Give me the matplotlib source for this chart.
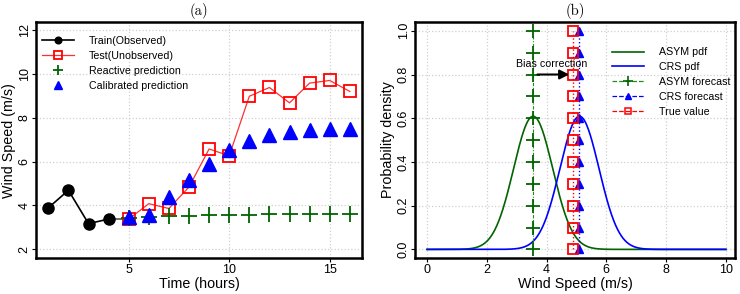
import numpy as np
import matplotlib
matplotlib.use('Agg')
import matplotlib.pyplot as plt

# panel (a) data
train_t = [1, 2, 3, 4]
train_ws = [3.89, 4.69, 3.17, 3.38]
test_t = [5, 6, 7, 8, 9, 10, 11, 12, 13, 14, 15, 16]
test_ws = [3.38, 4.08, 3.86, 4.84, 6.57, 6.26, 8.97, 9.37, 8.67, 9.57, 9.69, 9.19]
reactive_ws = [3.45, 3.48, 3.52, 3.54, 3.56, 3.57, 3.58, 3.59, 3.6, 3.61, 3.62, 3.62]
calib_ws = [3.48, 3.56, 4.38, 5.15, 5.9, 6.52, 6.94, 7.22, 7.35, 7.43, 7.47, 7.5]

# panel (b) data
asym_mean, asym_sd = 3.55, 0.655
crs_mean, crs_sd = 5.1, 0.655
true_value = 4.9
forecast_y = [0.0, 0.1, 0.2, 0.3, 0.4, 0.5, 0.6, 0.7, 0.8, 0.9, 1.0]

plt.rcParams['font.family'] = ['Liberation Sans', 'DejaVu Sans']

fig = plt.figure(figsize=(7.4, 2.94), dpi=100)
ax1 = fig.add_axes([0.049, 0.122, 0.440, 0.803])
ax2 = fig.add_axes([0.561, 0.122, 0.432, 0.803])

def style_axes(ax):
    for s in ax.spines.values():
        s.set_linewidth(1.8)
    ax.tick_params(direction='out', length=3, width=0.8, labelsize=9, pad=1)
    ax.grid(True, color='#d0d0d0', linestyle=':', linewidth=0.9)
    ax.set_axisbelow(True)
    for lab in ax.get_yticklabels():
        lab.set_rotation(90)
        lab.set_va('center')

leg_kw = dict(frameon=False, fontsize=7.7, handlelength=3.0, handletextpad=1.4,
              labelspacing=0.45, borderpad=0, borderaxespad=0, loc='upper left')

# ---- (a)
ax1.plot([train_t[-1], test_t[0]], [train_ws[-1], test_ws[0]], color='#555555', lw=1.2)
ax1.plot(train_t, train_ws, color='black', lw=1.2, marker='o', ms=8,
         label='Train(Observed)')
ax1.plot(test_t, test_ws, color='#ff3030', lw=0.9, marker='s', ms=9, mfc='none',
         mec='red', mew=1.3, label='Test(Unobserved)')
ax1.plot(test_t, reactive_ws, ls='none', marker='+', ms=12, mew=1.3,
         color='#006400', label='Reactive prediction')
ax1.plot(test_t, calib_ws, ls='none', marker='^', ms=10, color='blue',
         label='Calibrated prediction')
ax1.set_xlim(0.4, 16.6)
ax1.set_ylim(1.6, 12.35)
ax1.set_xticks([5, 10, 15])
ax1.set_yticks([2, 4, 6, 8, 10, 12])
ax1.set_xlabel('Time (hours)', fontsize=10.3, labelpad=1)
ax1.set_ylabel('Wind Speed (m/s)', fontsize=10.3, labelpad=2)
style_axes(ax1)
h, l = ax1.get_legend_handles_labels()
ax1.legend(h, l, bbox_to_anchor=(0.018, 0.94), markerscale=0.6, **leg_kw)
ax1.set_title('(a)', family='cmr10', fontsize=10.5, pad=5)

# ---- (b)
x = np.linspace(0, 10, 501)
asym_pdf = np.exp(-0.5 * ((x - asym_mean) / asym_sd) ** 2) / (asym_sd * np.sqrt(2 * np.pi))
crs_pdf = np.exp(-0.5 * ((x - crs_mean) / crs_sd) ** 2) / (crs_sd * np.sqrt(2 * np.pi))
ax2.plot(x, asym_pdf, color='#006400', lw=1.2, label='ASYM pdf')
ax2.plot(x, crs_pdf, color='blue', lw=1.2, label='CRS pdf')
ax2.plot([asym_mean] * len(forecast_y), forecast_y, color='#228b22', ls=(0, (3, 1.5, 1, 1.5)),
         lw=0.8, marker='+', ms=10, mew=1.3, mec='#006400')
ax2.plot([crs_mean] * len(forecast_y), forecast_y, color='blue', ls=':', lw=1.0,
         marker='^', ms=6)
ax2.plot([true_value] * len(forecast_y), forecast_y, color='red', ls=':', lw=1.0,
         marker='s', ms=7, mfc='none', mew=1.3)
# legend proxies (dashed lines in the key)
ax2.plot([], [], color='#228b22', ls='--', lw=0.9, marker='+', ms=7, mew=1.2,
         mec='#006400', label='ASYM forecast')
ax2.plot([], [], color='blue', ls='--', lw=0.9, marker='^', ms=5, label='CRS forecast')
ax2.plot([], [], color='red', ls='--', lw=0.9, marker='s', ms=5, mfc='none', mew=1.1,
         label='True value')
ax2.annotate('', xy=(true_value - 0.05, 0.8), xytext=(asym_mean + 0.05, 0.8),
             arrowprops=dict(arrowstyle='-|>', color='black', lw=1.5,
                             mutation_scale=14))
ax2.text(4.18, 0.85, 'Bias correction', ha='center', va='center', fontsize=7.7)
ax2.set_xlim(-0.4, 10.3)
ax2.set_ylim(-0.04, 1.04)
ax2.set_xticks([0, 2, 4, 6, 8, 10])
ax2.set_yticks(forecast_y[::2])
ax2.set_yticklabels(['0.0', '0.2', '0.4', '0.6', '0.8', '1.0'])
ax2.set_xlabel('Wind Speed (m/s)', fontsize=10.3, labelpad=1)
ax2.set_ylabel('Probability density', fontsize=10.3, labelpad=2)
style_axes(ax2)
h, l = ax2.get_legend_handles_labels()
ax2.legend(h, l, bbox_to_anchor=(0.616, 0.893), **leg_kw)
ax2.set_title('(b)', family='cmr10', fontsize=10.5, pad=5)

fig.savefig('out.png', dpi=100)
